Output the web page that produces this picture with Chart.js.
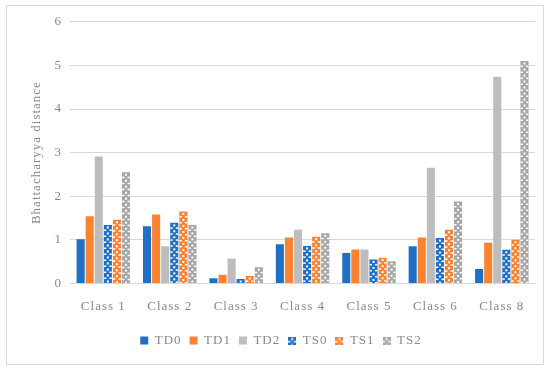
<!DOCTYPE html>
<html>
<head>
<meta charset="utf-8">
<script src="https://cdn.jsdelivr.net/npm/chart.js@4"></script>
<style>
  html, body { margin: 0; padding: 0; background: #fff; }
  #wrap { position: absolute; left: 6px; top: 5px; width: 538px; height: 360px; border: 1px solid #d9d9d9; box-sizing: border-box; }
  canvas { display: block; }
</style>
</head>
<body>
<div id="wrap"><canvas id="chart" width="536" height="358"></canvas></div>
<script>
const classes = ["Class 1", "Class 2", "Class 3", "Class 4", "Class 5", "Class 6", "Class 8"];
const td0 = [1.01, 1.31, 0.12, 0.90, 0.70, 0.85, 0.33];
const td1 = [1.54, 1.58, 0.20, 1.05, 0.78, 1.05, 0.93];
const td2 = [2.91, 0.85, 0.57, 1.23, 0.78, 2.65, 4.74];
const ts0 = [1.34, 1.39, 0.10, 0.86, 0.55, 1.04, 0.77];
const ts1 = [1.46, 1.65, 0.17, 1.07, 0.59, 1.23, 1.00];
const ts2 = [2.55, 1.34, 0.37, 1.15, 0.51, 1.88, 5.10];
const yTicks = [0, 1, 2, 3, 4, 5, 6];

const blue = "#1f6fc5", orange = "#fb8230", gray = "#bdbdbd", darkGray = "#a6a6a6";

// punch the white holes of a chain link into one bar
function cutLinks(ctx, x, top, w, bottom) {
  ctx.save();
  ctx.beginPath();
  ctx.rect(x, top, w, bottom - top);
  ctx.clip();
  ctx.fillStyle = "#fff";
  const mid = x + w / 2;
  for (let y = top; y < bottom; y += 6) {
    ctx.fillRect(mid - 1, y + 1.5, 2, 2);      // hole in link
    ctx.fillRect(x, y + 4.5, mid - 1.5 - x, 1.5); // gap left of connector
    ctx.fillRect(mid + 1.5, y + 4.5, x + w - mid - 1.5, 1.5);
  }
  ctx.restore();
}

// small legend swatch for chain series
function chainIcon(color) {
  const c = document.createElement("canvas");
  c.width = 8; c.height = 8;
  const g = c.getContext("2d");
  g.fillStyle = color;
  g.fillRect(0, 0, 8, 8);
  cutLinks(g, 0, 0, 8, 8);
  return c;
}

const chainPlugin = {
  id: "chain",
  afterDatasetDraw(chart, args) {
    const ds = chart.data.datasets[args.index];
    if (!ds.chain) return;
    const ctx = chart.ctx;
    args.meta.data.forEach(bar => {
      const p = bar.getProps(["x", "y", "base", "width"], true);
      cutLinks(ctx, p.x - p.width / 2, p.y, p.width, p.base);
    });
  }
};

const spacing = {
  id: "spacing",
  beforeUpdate(chart) { chart.ctx.letterSpacing = "1px"; },
  beforeDraw(chart) { chart.ctx.letterSpacing = "1px"; }
};

const font = { family: "'Liberation Serif', 'DejaVu Serif', serif", size: 13 };

new Chart(document.getElementById("chart"), {
  type: "bar",
  data: {
    labels: classes,
    datasets: [
      { label: "TD0", data: td0, backgroundColor: blue },
      { label: "TD1", data: td1, backgroundColor: orange },
      { label: "TD2", data: td2, backgroundColor: gray },
      { label: "TS0", data: ts0, backgroundColor: blue, chain: true, pointStyle: chainIcon(blue) },
      { label: "TS1", data: ts1, backgroundColor: orange, chain: true, pointStyle: chainIcon(orange) },
      { label: "TS2", data: ts2, backgroundColor: darkGray, chain: true, pointStyle: chainIcon(darkGray) }
    ]
  },
  plugins: [spacing, chainPlugin],
  options: {
    responsive: false,
    animation: false,
    layout: { padding: { left: 20, right: 8, top: 5, bottom: 7 } },
    datasets: { bar: { categoryPercentage: 0.82, barPercentage: 0.89 } },
    scales: {
      x: {
        grid: { display: false },
        border: { color: "#d9d9d9" },
        ticks: { color: "#888", font, padding: 7 },
        afterFit: axis => { axis.height += 5; }
      },
      y: {
        min: 0, max: 6,
        afterBuildTicks: axis => { axis.ticks = yTicks.map(v => ({ value: v })); },
        grid: { color: "#d9d9d9", drawTicks: false },
        border: { display: false },
        ticks: { color: "#888", font, padding: 8 },
        title: { display: true, text: "Bhattacharyya distance", color: "#888", font, padding: 2 }
      }
    },
    plugins: {
      legend: {
        position: "bottom",
        labels: {
          color: "#888", font, boxWidth: 8, boxHeight: 8, padding: 8,
          generateLabels(chart) {
            const items = Chart.defaults.plugins.legend.labels.generateLabels(chart);
            items.forEach((it, i) => {
              const ds = chart.data.datasets[i];
              if (ds.chain) it.pointStyle = ds.pointStyle;
              else it.pointStyle = "rect";
            });
            return items;
          },
          usePointStyle: true, pointStyleWidth: 8
        }
      },
      tooltip: { enabled: false }
    }
  }
});
</script>
</body>
</html>
